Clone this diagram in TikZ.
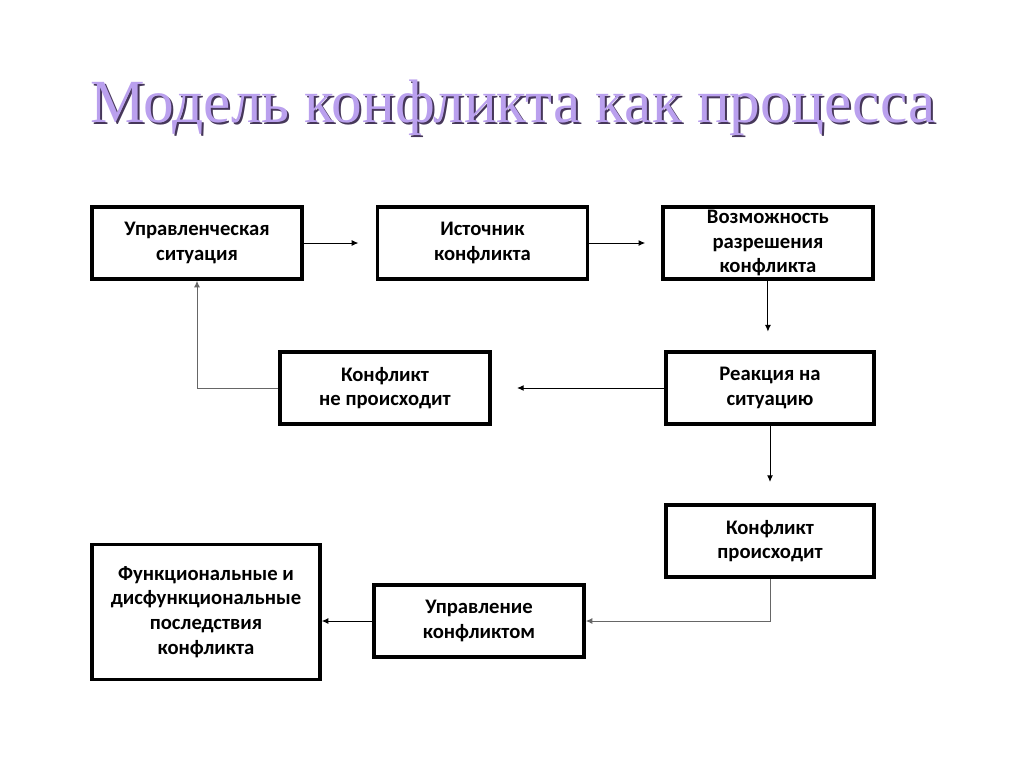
\documentclass[tikz,border=0pt]{standalone}
\usepackage{fontspec}
\setmainfont{Carlito}
\usetikzlibrary{arrows.meta,
                positioning
                }
\definecolor{lilac}{RGB}{186,160,238}
\definecolor{lilacshade}{RGB}{70,55,90}

\begin{document}
\begin{tikzpicture}[
x=0.75pt, y=-0.75pt,
node distance = 54pt,
    BX/.style = {draw, line width=2.6pt,
        minimum width=157.5pt, minimum height=54pt,
        align=center, inner sep=2pt,
        font=\bfseries\fontsize{15.5}{18.5}\selectfont},
    TT/.style = {anchor=base, inner sep=0pt,
        font=\fontspec{Liberation Serif}\fontsize{46}{54}\selectfont},
    AR/.style = {line width=0.75pt, -{Latex[length=5pt, width=4.5pt]}},
    AG/.style = {AR, draw=black!60},
                        ]
\useasboundingbox (0,0) rectangle (1024,768);
% title with shadow
\node[TT, text=lilacshade] (shade) at (515,124) {Модель конфликта как процесса};
\node[TT, text=lilac]      (title) at (513,122) {Модель конфликта как процесса};
% boxes
\node[BX] (usit) at (197,243) {Управленческая\\ситуация};
\node[BX, right=of usit] (ist)  {Источник\\конфликта};
\node[BX, right=of ist]  (vozm) {Возможность\\разрешения\\конфликта};
\node[BX, minimum width=156pt] (reak) at (770,388) {Реакция на\\ситуацию};
\node[BX] (net) at (385,388) {Конфликт\\не происходит};
\node[BX, minimum width=156pt] (est) at (770,541) {Конфликт\\происходит};
\node[BX] (upr) at (479,621) {Управление\\конфликтом};
\node[BX, minimum width=171pt, minimum height=101pt] (posl) at (206,612)
    {Функциональные и\\дисфункциональные\\последствия\\конфликта};
% connectors
\draw[AR, shorten >=13pt] (usit) -- (ist);
\draw[AR, shorten >=12pt] (ist) -- (vozm);
\draw[AR, shorten >=14pt] (vozm.south) -- (vozm.south |- reak.north);
\draw[AR, shorten >=19pt] (reak) -- (net);
\draw[AG] (net.west) -| (usit.south);
\draw[AR, shorten >=16pt] (reak) -- (est);
\draw[AG] (est.south) |- (upr.east);
\draw[AR] (upr.west) -- (upr.west -| posl.east);
\end{tikzpicture}
\end{document}
